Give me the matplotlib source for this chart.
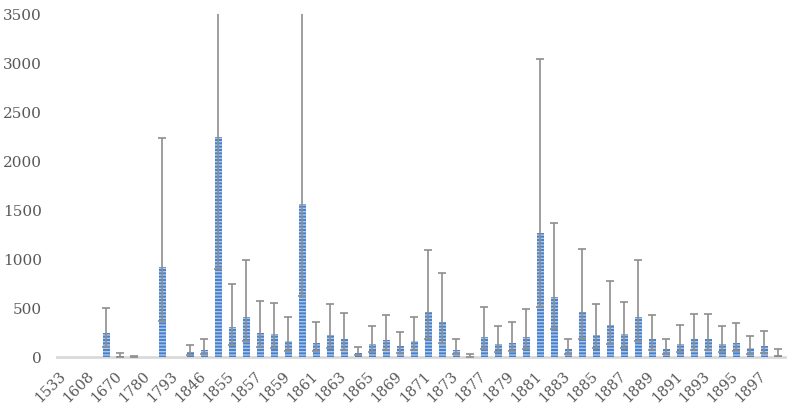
import matplotlib
matplotlib.use("Agg")
import matplotlib.pyplot as plt
import numpy as np

plt.rcParams['font.family'] = ['DejaVu Serif']
plt.rcParams['hatch.linewidth'] = 1.0

years = ['1533', '1600', '1608', '1650', '1670', '1700', '1780', '1790', '1793', '1800',
         '1846', '1850', '1855', '1856', '1857', '1858', '1859', '1860', '1861', '1862',
         '1863', '1864', '1865', '1868', '1869', '1870', '1871', '1872', '1873', '1876',
         '1877', '1878', '1879', '1880', '1881', '1882', '1883', '1884', '1885', '1886',
         '1887', '1888', '1889', '1890', '1891', '1892', '1893', '1894', '1895', '1896',
         '1897', '1898']

values = [0, 0, 0, 250, 12, 4, 0, 920, 0, 50,
          75, 2250, 310, 410, 245, 230, 167, 1560, 146, 225,
          184, 44, 133, 173, 110, 167, 456, 354, 75, 5,
          207, 133, 146, 207, 1270, 610, 78, 459, 224, 327,
          235, 405, 180, 78, 136, 184, 180, 136, 143, 88,
          112, 25]

upper = [0, 0, 0, 505, 45, 10, 0, 2230, 0, 120,
         180, 5300, 740, 990, 570, 555, 405, 3700, 360, 540,
         452, 105, 320, 430, 258, 412, 1090, 855, 180, 28,
         507, 320, 354, 490, 3040, 1370, 180, 1100, 540, 780,
         558, 985, 428, 180, 327, 442, 439, 320, 350, 217,
         268, 78]

lower = [0, 0, 0, 100, 5, 2, 0, 370, 0, 20,
         30, 900, 124, 164, 98, 90, 65, 620, 60, 90,
         72, 18, 53, 70, 44, 67, 180, 146, 30, 2,
         82, 53, 58, 82, 513, 283, 31, 180, 88, 130,
         95, 163, 71, 31, 54, 73, 72, 54, 57, 35,
         45, 10]

yticks = [0, 500, 1000, 1500, 2000, 2500, 3000, 3500]

fig = plt.figure(figsize=(7.92, 4.11), dpi=100)
ax = fig.add_axes([57/792, 1 - 357/411, 728/792, (357 - 14)/411])

x = np.arange(len(years))
vals = np.array(values, dtype=float)
upv = np.array(upper, dtype=float)
lov = np.array(lower, dtype=float)
m = upv > 0

ax.bar(x, vals, width=0.5, color='#4A7FCB', edgecolor='#A9C9EF', linewidth=0,
       hatch='-----', zorder=2)
ax.errorbar(x[m], vals[m], yerr=[vals[m] - lov[m], upv[m] - vals[m]], fmt='none',
            ecolor='#8E8E8E', elinewidth=1.2, capsize=3.2, capthick=1.2, zorder=3)

ax.set_xlim(-0.5, len(years) - 0.5)
ax.set_ylim(0, 3500)
ax.set_yticks(yticks)
ax.set_yticklabels([str(v) for v in yticks])
ax.set_xticks(x[::2])
ax.set_xticklabels(years[::2], rotation=45, ha='right', va='center', rotation_mode='anchor')

for s in ['top', 'right', 'left']:
    ax.spines[s].set_visible(False)
ax.spines['bottom'].set_color('#D9D9D9')
ax.spines['bottom'].set_linewidth(2)
ax.spines['bottom'].set_zorder(1)
ax.tick_params(axis='y', length=0, labelsize=11, labelcolor='#595959', pad=11)
ax.tick_params(axis='x', length=0, labelsize=10.5, labelcolor='#595959', pad=12)

fig.savefig('out.png', dpi=100)
